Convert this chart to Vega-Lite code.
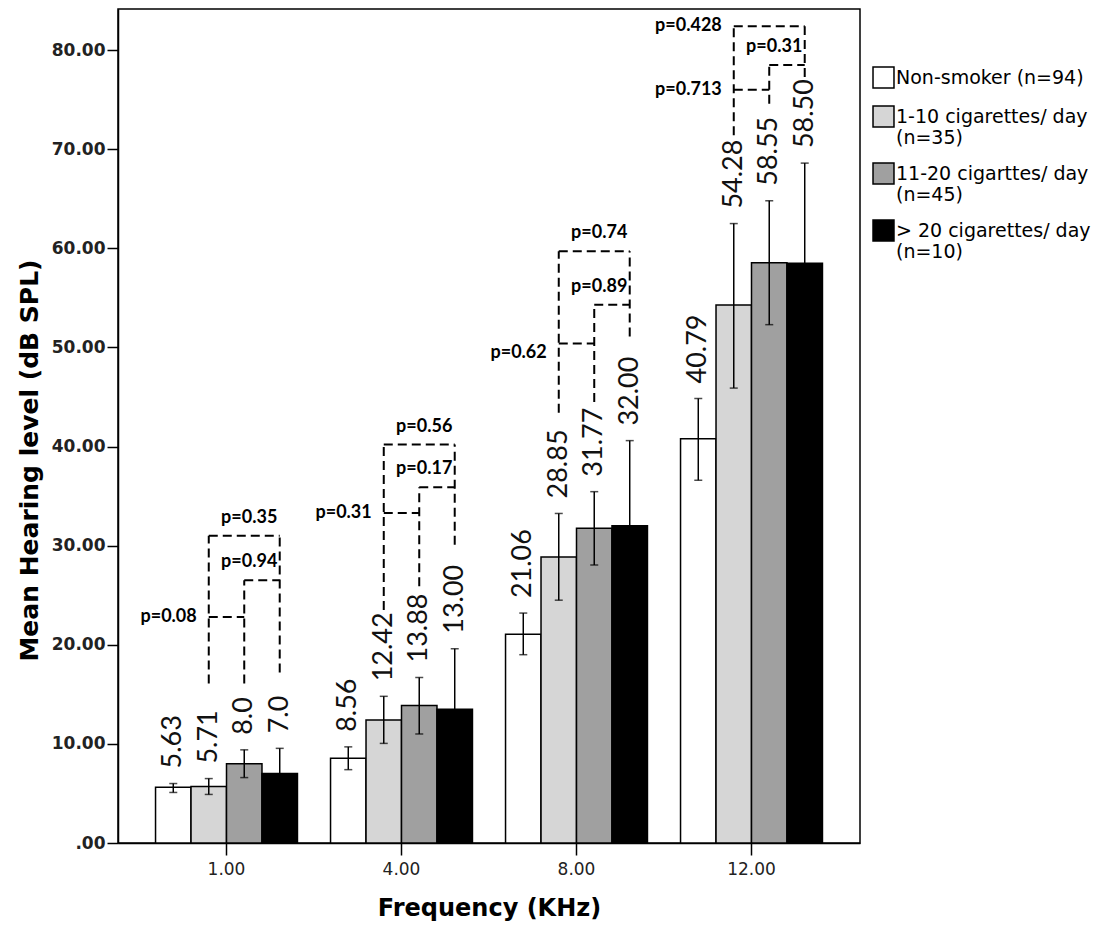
{
  "$schema": "https://vega.github.io/schema/vega-lite/v6.json",
  "width": 742,
  "height": 834,
  "autosize": {"type": "none"},
  "padding": {"left": 118, "top": 9, "right": 240, "bottom": 93},
  "background": "white",
  "config": {
    "view": {"stroke": "black", "strokeWidth": 1.5},
    "axis": {"grid": false, "domainColor": "black", "tickColor": "black"}
  },
  "datasets": {
    "bars": [
      {"freq": "1.00", "grp": "Non-smoker (n=94)", "mean": 5.63, "lo": 5.1, "hi": 6.0, "label": "5.63"},
      {"freq": "1.00", "grp": "1-10 cigarettes/ day (n=35)", "mean": 5.71, "lo": 4.9, "hi": 6.5, "label": "5.71"},
      {"freq": "1.00", "grp": "11-20 cigarttes/ day (n=45)", "mean": 8.0, "lo": 6.6, "hi": 9.4, "label": "8.0"},
      {"freq": "1.00", "grp": "> 20 cigarettes/ day (n=10)", "mean": 7.0, "lo": 4.45, "hi": 9.55, "label": "7.0"},
      {"freq": "4.00", "grp": "Non-smoker (n=94)", "mean": 8.56, "lo": 7.4, "hi": 9.7, "label": "8.56"},
      {"freq": "4.00", "grp": "1-10 cigarettes/ day (n=35)", "mean": 12.42, "lo": 10.05, "hi": 14.8, "label": "12.42"},
      {"freq": "4.00", "grp": "11-20 cigarttes/ day (n=45)", "mean": 13.88, "lo": 11.0, "hi": 16.7, "label": "13.88"},
      {"freq": "4.00", "grp": "> 20 cigarettes/ day (n=10)", "mean": 13.5, "lo": 7.4, "hi": 19.6, "label": "13.00"},
      {"freq": "8.00", "grp": "Non-smoker (n=94)", "mean": 21.06, "lo": 19.0, "hi": 23.2, "label": "21.06"},
      {"freq": "8.00", "grp": "1-10 cigarettes/ day (n=35)", "mean": 28.85, "lo": 24.5, "hi": 33.25, "label": "28.85"},
      {"freq": "8.00", "grp": "11-20 cigarttes/ day (n=45)", "mean": 31.77, "lo": 28.05, "hi": 35.45, "label": "31.77"},
      {"freq": "8.00", "grp": "> 20 cigarettes/ day (n=10)", "mean": 32.0, "lo": 23.4, "hi": 40.6, "label": "32.00"},
      {"freq": "12.00", "grp": "Non-smoker (n=94)", "mean": 40.79, "lo": 36.6, "hi": 44.85, "label": "40.79"},
      {"freq": "12.00", "grp": "1-10 cigarettes/ day (n=35)", "mean": 54.28, "lo": 45.9, "hi": 62.5, "label": "54.28"},
      {"freq": "12.00", "grp": "11-20 cigarttes/ day (n=45)", "mean": 58.55, "lo": 52.3, "hi": 64.8, "label": "58.55"},
      {"freq": "12.00", "grp": "> 20 cigarettes/ day (n=10)", "mean": 58.5, "lo": 48.4, "hi": 68.6, "label": "58.50"}
    ],
    "brackets": [
      {"freq": "1.00", "seg": "1A", "grp": "1-10 cigarettes/ day (n=35)", "level": 16.1},
      {"freq": "1.00", "seg": "1A", "grp": "1-10 cigarettes/ day (n=35)", "level": 31.0},
      {"freq": "1.00", "seg": "1B", "grp": "11-20 cigarttes/ day (n=45)", "level": 16.1},
      {"freq": "1.00", "seg": "1B", "grp": "11-20 cigarttes/ day (n=45)", "level": 26.5},
      {"freq": "1.00", "seg": "1C", "grp": "> 20 cigarettes/ day (n=10)", "level": 17.2},
      {"freq": "1.00", "seg": "1C", "grp": "> 20 cigarettes/ day (n=10)", "level": 31.0},
      {"freq": "1.00", "seg": "1D", "grp": "1-10 cigarettes/ day (n=35)", "level": 22.8},
      {"freq": "1.00", "seg": "1D", "grp": "11-20 cigarttes/ day (n=45)", "level": 22.8},
      {"freq": "1.00", "seg": "1E", "grp": "11-20 cigarttes/ day (n=45)", "level": 26.5},
      {"freq": "1.00", "seg": "1E", "grp": "> 20 cigarettes/ day (n=10)", "level": 26.5},
      {"freq": "1.00", "seg": "1F", "grp": "1-10 cigarettes/ day (n=35)", "level": 31.0},
      {"freq": "1.00", "seg": "1F", "grp": "> 20 cigarettes/ day (n=10)", "level": 31.0},
      {"freq": "4.00", "seg": "2A", "grp": "1-10 cigarettes/ day (n=35)", "level": 23.5},
      {"freq": "4.00", "seg": "2A", "grp": "1-10 cigarettes/ day (n=35)", "level": 40.2},
      {"freq": "4.00", "seg": "2B", "grp": "11-20 cigarttes/ day (n=45)", "level": 25.9},
      {"freq": "4.00", "seg": "2B", "grp": "11-20 cigarttes/ day (n=45)", "level": 35.9},
      {"freq": "4.00", "seg": "2C", "grp": "> 20 cigarettes/ day (n=10)", "level": 30.1},
      {"freq": "4.00", "seg": "2C", "grp": "> 20 cigarettes/ day (n=10)", "level": 40.2},
      {"freq": "4.00", "seg": "2D", "grp": "1-10 cigarettes/ day (n=35)", "level": 33.3},
      {"freq": "4.00", "seg": "2D", "grp": "11-20 cigarttes/ day (n=45)", "level": 33.3},
      {"freq": "4.00", "seg": "2E", "grp": "11-20 cigarttes/ day (n=45)", "level": 35.9},
      {"freq": "4.00", "seg": "2E", "grp": "> 20 cigarettes/ day (n=10)", "level": 35.9},
      {"freq": "4.00", "seg": "2F", "grp": "1-10 cigarettes/ day (n=35)", "level": 40.2},
      {"freq": "4.00", "seg": "2F", "grp": "> 20 cigarettes/ day (n=10)", "level": 40.2},
      {"freq": "8.00", "seg": "3A", "grp": "1-10 cigarettes/ day (n=35)", "level": 43.4},
      {"freq": "8.00", "seg": "3A", "grp": "1-10 cigarettes/ day (n=35)", "level": 59.7},
      {"freq": "8.00", "seg": "3B", "grp": "11-20 cigarttes/ day (n=45)", "level": 44.5},
      {"freq": "8.00", "seg": "3B", "grp": "11-20 cigarttes/ day (n=45)", "level": 54.3},
      {"freq": "8.00", "seg": "3C", "grp": "> 20 cigarettes/ day (n=10)", "level": 51.1},
      {"freq": "8.00", "seg": "3C", "grp": "> 20 cigarettes/ day (n=10)", "level": 59.7},
      {"freq": "8.00", "seg": "3D", "grp": "1-10 cigarettes/ day (n=35)", "level": 50.4},
      {"freq": "8.00", "seg": "3D", "grp": "11-20 cigarttes/ day (n=45)", "level": 50.4},
      {"freq": "8.00", "seg": "3E", "grp": "11-20 cigarttes/ day (n=45)", "level": 54.3},
      {"freq": "8.00", "seg": "3E", "grp": "> 20 cigarettes/ day (n=10)", "level": 54.3},
      {"freq": "8.00", "seg": "3F", "grp": "1-10 cigarettes/ day (n=35)", "level": 59.7},
      {"freq": "8.00", "seg": "3F", "grp": "> 20 cigarettes/ day (n=10)", "level": 59.7},
      {"freq": "12.00", "seg": "4A", "grp": "1-10 cigarettes/ day (n=35)", "level": 71.4},
      {"freq": "12.00", "seg": "4A", "grp": "1-10 cigarettes/ day (n=35)", "level": 82.4},
      {"freq": "12.00", "seg": "4B", "grp": "11-20 cigarttes/ day (n=45)", "level": 74.6},
      {"freq": "12.00", "seg": "4B", "grp": "11-20 cigarttes/ day (n=45)", "level": 78.5},
      {"freq": "12.00", "seg": "4C", "grp": "> 20 cigarettes/ day (n=10)", "level": 77.3},
      {"freq": "12.00", "seg": "4C", "grp": "> 20 cigarettes/ day (n=10)", "level": 82.4},
      {"freq": "12.00", "seg": "4D", "grp": "1-10 cigarettes/ day (n=35)", "level": 76.0},
      {"freq": "12.00", "seg": "4D", "grp": "11-20 cigarttes/ day (n=45)", "level": 76.0},
      {"freq": "12.00", "seg": "4E", "grp": "11-20 cigarttes/ day (n=45)", "level": 78.5},
      {"freq": "12.00", "seg": "4E", "grp": "> 20 cigarettes/ day (n=10)", "level": 78.5},
      {"freq": "12.00", "seg": "4F", "grp": "1-10 cigarettes/ day (n=35)", "level": 82.4},
      {"freq": "12.00", "seg": "4F", "grp": "> 20 cigarettes/ day (n=10)", "level": 82.4}
    ],
    "pvalues": [
      {"freq": "1.00", "grp": "1-10 cigarettes/ day (n=35)", "level": 22.8, "p": "p=0.08", "kind": "left"},
      {"freq": "1.00", "grp": "11-20 cigarttes/ day (n=45)", "level": 26.5, "p": "p=0.94", "kind": "top"},
      {"freq": "1.00", "grp": "11-20 cigarttes/ day (n=45)", "level": 31.0, "p": "p=0.35", "kind": "top"},
      {"freq": "4.00", "grp": "1-10 cigarettes/ day (n=35)", "level": 33.3, "p": "p=0.31", "kind": "left"},
      {"freq": "4.00", "grp": "11-20 cigarttes/ day (n=45)", "level": 35.9, "p": "p=0.17", "kind": "top"},
      {"freq": "4.00", "grp": "11-20 cigarttes/ day (n=45)", "level": 40.2, "p": "p=0.56", "kind": "top"},
      {"freq": "8.00", "grp": "1-10 cigarettes/ day (n=35)", "level": 49.4, "p": "p=0.62", "kind": "left"},
      {"freq": "8.00", "grp": "11-20 cigarttes/ day (n=45)", "level": 54.3, "p": "p=0.89", "kind": "top"},
      {"freq": "8.00", "grp": "11-20 cigarttes/ day (n=45)", "level": 59.7, "p": "p=0.74", "kind": "top"},
      {"freq": "12.00", "grp": "1-10 cigarettes/ day (n=35)", "level": 82.4, "p": "p=0.428", "kind": "left"},
      {"freq": "12.00", "grp": "1-10 cigarettes/ day (n=35)", "level": 76.0, "p": "p=0.713", "kind": "left"},
      {"freq": "12.00", "grp": "11-20 cigarttes/ day (n=45)", "level": 78.5, "p": "p=0.31", "kind": "top"}
    ]
  },
  "encoding": {
    "x": {
      "field": "freq",
      "type": "ordinal",
      "scale": {"domain": ["1.00", "4.00", "8.00", "12.00"], "paddingInner": 0.189, "paddingOuter": 0.2145},
      "axis": {
        "title": "Frequency (KHz)",
        "labelAngle": 0,
        "labelFont": "DejaVu Sans",
        "labelFontSize": 17,
        "labelColor": "#222",
        "tickSize": 12,
        "tickWidth": 1.5,
        "labelPadding": 6,
        "domainWidth": 1.5,
        "titleFont": "DejaVu Sans",
        "titleFontSize": 24,
        "titleFontWeight": "bold",
        "titleColor": "black",
        "titleBaseline": "alphabetic",
        "titleX": 371,
        "titleY": 72
      }
    },
    "xOffset": {
      "field": "grp",
      "type": "nominal",
      "scale": {
        "domain": ["Non-smoker (n=94)", "1-10 cigarettes/ day (n=35)", "11-20 cigarttes/ day (n=45)", "> 20 cigarettes/ day (n=10)"],
        "paddingInner": 0,
        "paddingOuter": 0
      }
    }
  },
  "layer": [
    {
      "data": {"name": "bars"},
      "mark": {"type": "bar", "stroke": "black", "strokeWidth": 1.5},
      "encoding": {
        "y": {
          "field": "mean",
          "type": "quantitative",
          "scale": {"domain": [0, 84.15], "nice": false, "zero": true},
          "axis": {
            "title": "Mean Hearing level (dB SPL)",
            "values": [0, 10, 20, 30, 40, 50, 60, 70, 80],
            "labelExpr": "datum.value == 0 ? '.00' : format(datum.value, '.2f')",
            "labelFont": "DejaVu Sans",
            "labelFontWeight": "bold",
            "labelFontSize": 17,
            "labelColor": "#222",
            "tickSize": 11,
            "tickWidth": 1.5,
            "labelPadding": 2,
            "domainWidth": 1.5,
            "titleFont": "DejaVu Sans",
            "titleFontSize": 25,
            "titleFontWeight": "bold",
            "titleColor": "black",
            "titleAngle": 270,
            "titleBaseline": "bottom",
            "titleX": -76,
            "titleY": 451
          }
        },
        "color": {
          "field": "grp",
          "type": "nominal",
          "scale": {
            "domain": ["Non-smoker (n=94)", "1-10 cigarettes/ day (n=35)", "11-20 cigarttes/ day (n=45)", "> 20 cigarettes/ day (n=10)"],
            "range": ["#ffffff", "#d6d6d6", "#a0a0a0", "#000000"]
          },
          "legend": {
            "title": null,
            "orient": "none",
            "legendX": 754,
            "legendY": 57,
            "padding": 0,
            "symbolType": "square",
            "symbolSize": 440,
            "symbolStrokeColor": "black",
            "symbolStrokeWidth": 1.5,
            "symbolOpacity": 1,
            "labelFont": "DejaVu Sans",
            "labelFontSize": 19,
            "labelLineHeight": 23,
            "labelColor": "black",
            "labelLimit": 300,
            "labelOffset": 1,
            "rowPadding": 12,
            "labelBaseline": "middle",
            "labelExpr": "indexof(datum.label, 'day') > 0 ? [slice(datum.label, 0, indexof(datum.label, ' (')), slice(datum.label, indexof(datum.label, ' (') + 1)] : datum.label"
          }
        }
      }
    },
    {
      "data": {"name": "bars"},
      "mark": {"type": "rule", "color": "black", "strokeWidth": 1.5},
      "encoding": {
        "y": {"field": "lo", "type": "quantitative"},
        "y2": {"field": "hi"}
      }
    },
    {
      "data": {"name": "bars"},
      "mark": {"type": "tick", "orient": "horizontal", "color": "black", "size": 8, "thickness": 1.5},
      "encoding": {"y": {"field": "lo", "type": "quantitative"}}
    },
    {
      "data": {"name": "bars"},
      "mark": {"type": "tick", "orient": "horizontal", "color": "black", "size": 8, "thickness": 1.5},
      "encoding": {"y": {"field": "hi", "type": "quantitative"}}
    },
    {
      "data": {"name": "bars"},
      "mark": {"type": "text", "angle": 270, "align": "left", "baseline": "middle", "dx": 15, "font": "Lato", "fontSize": 27, "color": "#111"},
      "encoding": {
        "y": {"field": "hi", "type": "quantitative"},
        "text": {"field": "label"}
      }
    },
    {
      "data": {"name": "brackets"},
      "mark": {"type": "line", "color": "black", "strokeWidth": 2, "strokeDash": [9, 5]},
      "encoding": {
        "y": {"field": "level", "type": "quantitative"},
        "detail": {"field": "seg"}
      }
    },
    {
      "data": {"name": "pvalues"},
      "transform": [{"filter": "datum.kind == 'left'"}],
      "mark": {"type": "text", "align": "right", "baseline": "middle", "dx": -12, "font": "Lato", "fontWeight": "bold", "fontSize": 18, "color": "black"},
      "encoding": {
        "y": {"field": "level", "type": "quantitative"},
        "text": {"field": "p"}
      }
    },
    {
      "data": {"name": "pvalues"},
      "transform": [{"filter": "datum.kind == 'top'"}],
      "mark": {"type": "text", "align": "center", "baseline": "middle", "dx": 5, "dy": -18, "font": "Lato", "fontWeight": "bold", "fontSize": 18, "color": "black"},
      "encoding": {
        "y": {"field": "level", "type": "quantitative"},
        "text": {"field": "p"}
      }
    }
  ]
}
